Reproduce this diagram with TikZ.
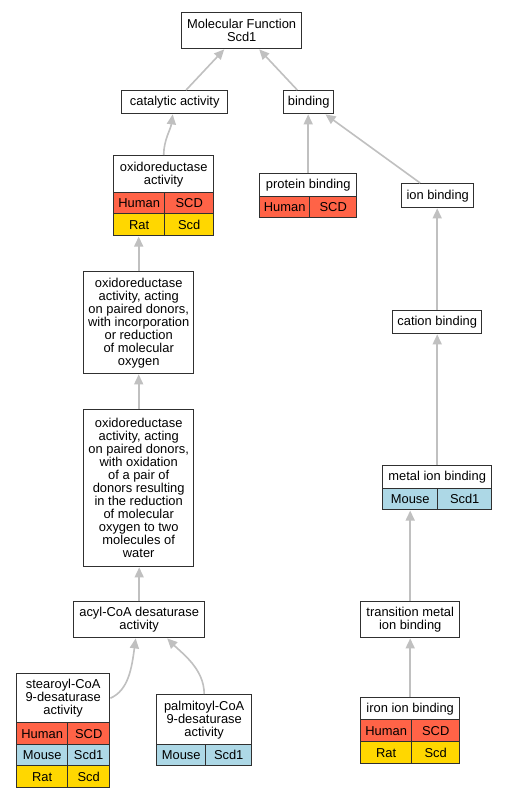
\documentclass[tikz,border=0pt]{standalone}
\usepackage{fontspec}
\setmainfont{Liberation Sans}
\usetikzlibrary{arrows.meta,fit}
\definecolor{human}{HTML}{FF6347}
\definecolor{rat}{HTML}{FFD700}
\definecolor{mouse}{HTML}{ADD8E6}
\definecolor{edgegray}{HTML}{C0C0C0}
\definecolor{bordergray}{HTML}{303030}
\tikzset{
  gbox/.style={draw=bordergray, line width=1.4pt, inner sep=0pt, align=center,
    font=\fontsize{12.9}{13}\selectfont},
  goarrow/.style={draw=edgegray, line width=1.6pt, -{Triangle[length=10pt,width=9pt]}},
  tablefit/.style={inner sep=0pt, draw=none}
}
\newcommand\gb[7]{\node[gbox,fill=#6,anchor=north west,minimum width={#4-#2},minimum height={#5-#3}] (#1) at (#2,#3) {#7};}
\begin{document}
\begin{tikzpicture}[x=1pt,y=-1pt]
\useasboundingbox[fill=white] (0,0) rectangle (505,797);
% top
\gb{mf}{181}{12}{301}{48}{white}{Molecular Function\\Scd1}
\gb{cat}{121}{90}{227}{113}{white}{catalytic activity}
\gb{bind}{283}{90}{333}{113}{white}{binding}
% oxidoreductase activity
\gb{oxT}{113}{155}{213}{192}{white}{oxidoreductase\\activity}
\gb{oxA1}{113}{192}{164}{213}{human}{Human}
\gb{oxA2}{164}{192}{213}{213}{human}{SCD}
\gb{oxB1}{113}{213}{164}{235}{rat}{Rat}
\gb{oxB2}{164}{213}{213}{235}{rat}{Scd}
\node[tablefit, fit=(oxT)(oxB2)(oxB1)] (ox) {};
% protein binding
\gb{protT}{259}{173}{356}{196}{white}{protein binding}
\gb{protA1}{259}{196}{309}{217}{human}{Human}
\gb{protA2}{309}{196}{356}{217}{human}{SCD}
% ion binding chain
\gb{ion}{401}{183}{473}{207}{white}{ion binding}
\gb{cation}{392}{310}{481}{333}{white}{cation binding}
\gb{metalT}{382}{465}{491}{488}{white}{metal ion binding}
\gb{metalA1}{382}{488}{437}{509}{mouse}{Mouse}
\gb{metalA2}{437}{488}{491}{509}{mouse}{Scd1}
\node[tablefit, fit=(metalT)(metalA1)(metalA2)] (metal) {};
\gb{trans}{360}{601}{459}{637}{white}{transition metal\\ion binding}
\gb{ironT}{360}{697}{459}{719}{white}{iron ion binding}
\gb{ironA1}{360}{719}{411}{741}{human}{Human}
\gb{ironA2}{411}{719}{459}{741}{human}{SCD}
\gb{ironB1}{360}{741}{411}{763}{rat}{Rat}
\gb{ironB2}{411}{741}{459}{763}{rat}{Scd}
% left chain
\gb{incorp}{83}{271}{193}{373}{white}{oxidoreductase\\activity, acting\\on paired donors,\\with incorporation\\or reduction\\of molecular\\oxygen}
\gb{oxid}{83}{409}{193}{566}{white}{oxidoreductase\\activity, acting\\on paired donors,\\with oxidation\\of a pair of\\donors resulting\\in the reduction\\of molecular\\oxygen to two\\molecules of\\water}
\gb{acyl}{73}{601}{204}{637}{white}{acyl-CoA desaturase\\activity}
\gb{stT}{16}{673}{109}{722}{white}{stearoyl-CoA\\9-desaturase\\activity}
\gb{stA1}{16}{722}{67}{744}{human}{Human}
\gb{stA2}{67}{722}{109}{744}{human}{SCD}
\gb{stB1}{16}{744}{67}{765}{mouse}{Mouse}
\gb{stB2}{67}{744}{109}{765}{mouse}{Scd1}
\gb{stC1}{16}{765}{67}{787}{rat}{Rat}
\gb{stC2}{67}{765}{109}{787}{rat}{Scd}
\gb{palT}{156}{694}{251}{744}{white}{palmitoyl-CoA\\9-desaturase\\activity}
\gb{palA1}{156}{744}{205}{765}{mouse}{Mouse}
\gb{palA2}{205}{744}{251}{765}{mouse}{Scd1}
% edges
\draw[goarrow] (cat) -- (mf);
\draw[goarrow] (bind) -- (mf);
\draw[goarrow] (oxT.north) .. controls +(0,-15) and +(-2,15) .. ([xshift=-2pt]cat.south);
\draw[goarrow] (protT.north) -- (protT.north |- bind.south);
\draw[goarrow] (ion) -- (bind);
\draw[goarrow] (cation.north) -- (cation.north |- ion.south);
\draw[goarrow] (metalT.north) -- (metalT.north |- cation.south);
\draw[goarrow] (trans.north) -- (trans.north |- metal.south);
\draw[goarrow] (ironT.north) -- (ironT.north |- trans.south);
\draw[goarrow] (incorp.north) -- (incorp.north |- ox.south);
\draw[goarrow] (oxid.north) -- (oxid.north |- incorp.south);
\draw[goarrow] (acyl.north) -- (acyl.north |- oxid.south);
\draw[goarrow] (stT.east) .. controls +(18,-8) and +(-4,30) .. ([xshift=-3.5pt]acyl.south);
\draw[goarrow] (palT.north) .. controls +(0,-25) and +(15,15) .. ([xshift=28pt]acyl.south);
\end{tikzpicture}
\end{document}
